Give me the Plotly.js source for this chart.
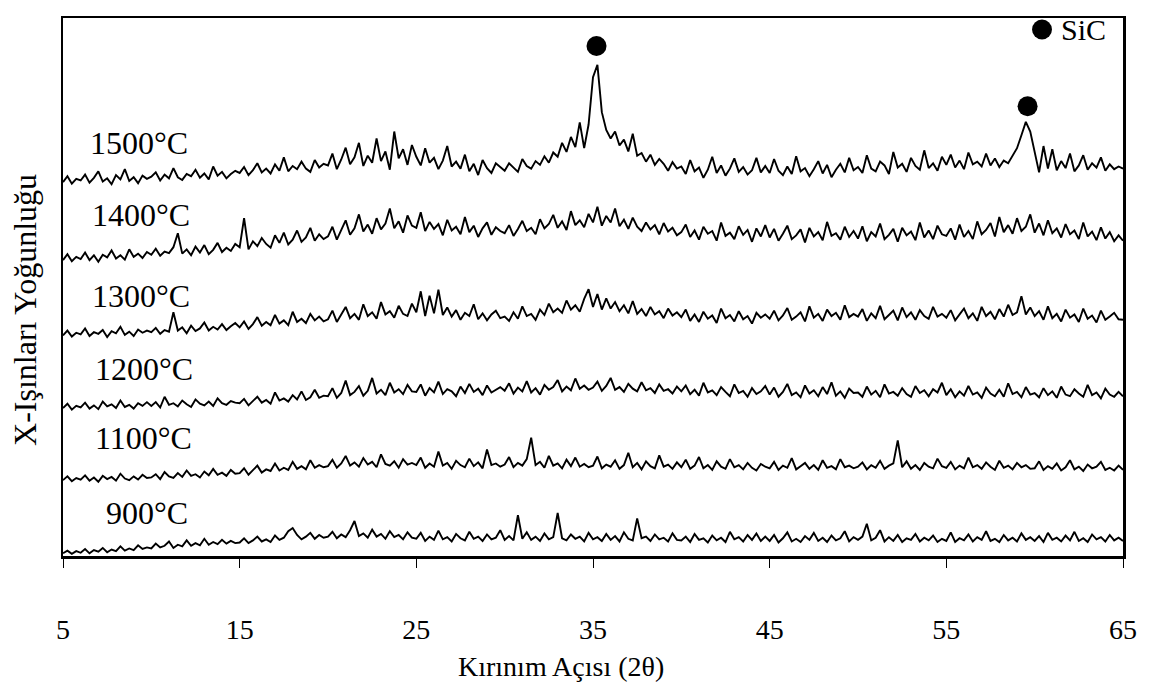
<!DOCTYPE html>
<html>
<head>
<meta charset="utf-8">
<script src="https://cdn.plot.ly/plotly-3.0.1.min.js"></script>
<style>
html,body{margin:0;padding:0;background:#fff;}
#chart{width:1159px;height:686px;}
</style>
</head>
<body>
<div id="chart"></div>
<script>
// Scan grid (2θ, degrees): 5 → 65 in steps of 0.25
const angleStart = 5, angleStep = 0.25, angleCount = 241;

// Intensities (arbitrary units, vertically offset as in the figure)
const i1500 = [
69.5,70.6,69.2,70.1,69.8,70.9,69.4,70.3,71.5,69.6,70.2,69.1,70.8,70.0,71.9,69.7,70.4,69.3,70.7,70.1,
70.5,71.3,69.8,70.9,70.2,72.1,70.4,69.9,71.0,70.6,71.8,70.3,71.1,70.0,72.4,70.7,71.4,70.2,71.0,71.6,
71.2,72.3,70.8,71.7,73.0,71.3,72.0,71.1,72.8,71.6,74.1,71.5,72.5,71.9,73.3,72.0,71.4,73.6,72.2,72.9,
72.6,74.8,71.9,73.7,75.9,72.8,74.1,76.8,72.5,74.4,73.1,77.6,73.4,75.2,71.8,78.9,73.9,75.6,72.7,76.4,
74.2,72.6,75.8,73.1,74.0,71.9,73.5,76.2,72.4,73.3,72.0,74.6,71.5,72.9,70.8,73.6,72.1,71.2,73.0,72.3,
71.6,73.0,72.2,71.4,73.8,72.5,72.0,73.4,72.7,74.3,73.1,75.0,74.2,76.8,75.1,77.9,76.0,80.6,75.8,80.2,
89.0,91.3,82.5,79.2,77.6,78.9,76.3,77.4,75.2,78.5,74.4,74.9,73.3,74.6,72.7,73.8,72.9,71.6,73.2,72.0,
72.4,71.0,73.6,71.5,72.2,70.3,71.8,74.2,71.2,72.6,70.7,72.0,73.9,71.4,72.3,70.9,71.7,74.0,71.3,72.5,
71.2,73.8,71.6,70.8,72.4,71.0,74.3,71.5,72.1,70.6,71.9,73.4,71.1,72.7,70.4,71.8,72.9,71.3,74.0,71.7,
72.3,71.2,74.5,72.0,71.5,73.3,72.6,71.0,75.1,72.2,72.9,71.4,74.0,72.5,71.8,75.4,72.1,73.0,71.6,74.2,
72.7,74.6,72.2,73.5,71.9,75.0,72.8,73.3,72.4,74.8,72.6,73.9,72.3,73.5,73.0,74.5,75.8,78.2,80.7,78.9,
75.0,71.3,76.2,72.0,75.6,71.7,73.4,72.1,74.8,71.5,72.6,74.5,71.8,73.0,72.2,74.1,71.6,72.8,71.9,72.4,
72.0];
const i1400 = [
55.0,56.1,54.8,55.6,55.2,56.4,55.0,55.9,54.7,56.0,55.5,56.8,55.3,55.9,55.1,57.0,55.6,56.2,55.4,56.5,
56.0,57.1,55.8,56.6,56.3,57.4,60.0,56.2,57.0,55.9,57.5,56.4,57.8,56.1,56.9,58.2,56.5,57.3,56.7,58.0,
57.4,62.8,57.0,58.5,57.6,59.1,58.0,57.3,59.6,58.2,60.1,57.9,58.8,60.5,58.4,59.2,61.0,58.6,59.8,58.9,
59.4,61.2,58.8,60.5,62.4,59.7,60.9,63.5,60.3,61.6,59.9,62.8,60.7,61.8,64.6,60.9,62.2,60.1,63.3,61.4,
61.0,63.9,60.4,62.1,60.8,61.7,59.6,62.5,60.5,61.2,59.8,63.0,60.2,61.4,59.3,60.9,62.0,59.7,61.1,60.4,
60.0,61.5,59.5,60.8,62.3,60.4,61.0,59.8,62.6,60.9,61.7,63.4,61.0,62.2,60.6,64.1,61.5,62.4,61.1,63.6,
62.0,64.9,61.4,63.2,62.0,64.6,61.3,62.5,60.8,62.9,61.2,60.4,62.0,60.7,61.5,59.8,61.9,60.3,61.0,59.6,
60.2,61.6,59.3,60.5,58.8,61.2,59.9,60.4,58.6,62.0,59.5,60.1,58.9,61.3,59.7,60.6,58.4,60.9,59.4,61.5,
59.2,60.8,58.6,59.9,61.4,58.9,59.6,60.7,58.3,61.0,59.4,60.2,58.7,62.1,59.5,60.0,58.8,61.2,59.3,60.4,
59.0,61.3,58.5,60.2,59.4,61.8,58.9,59.7,60.8,58.4,61.0,59.6,60.3,58.7,62.0,59.2,60.5,58.9,61.4,59.8,
59.5,60.9,58.8,61.6,59.3,60.4,58.9,62.2,59.8,60.6,61.9,59.4,63.0,60.2,61.5,59.9,62.8,60.4,61.2,63.5,
60.1,61.8,59.6,62.4,60.0,60.9,59.2,61.7,59.8,60.5,58.9,62.0,59.4,60.3,58.7,61.1,59.0,60.2,58.5,59.6,
58.6];
const i1300 = [
41.0,41.9,40.8,41.5,41.2,42.3,40.9,41.6,41.3,42.0,40.7,41.8,41.4,42.6,41.1,41.7,40.9,42.1,41.5,41.9,
41.6,42.4,41.3,42.0,41.7,45.3,41.9,42.5,41.4,42.8,41.8,42.3,43.4,41.9,42.6,42.1,43.1,42.0,42.7,43.3,
42.5,43.6,42.2,43.1,44.4,42.8,43.5,42.9,44.8,43.2,43.8,42.9,45.4,43.5,44.1,43.3,45.0,43.8,44.5,43.6,
44.0,45.6,43.5,44.8,46.3,44.2,45.0,43.9,46.8,44.6,45.3,44.1,47.2,44.9,45.5,44.3,46.5,45.0,44.6,46.9,
45.3,49.2,44.6,48.4,45.1,49.5,44.8,46.2,44.5,45.7,43.9,45.2,44.6,46.8,44.0,45.1,43.8,44.9,45.6,44.2,
44.5,43.7,45.3,44.1,46.4,44.6,45.0,43.9,45.8,44.8,46.9,45.3,46.0,45.2,47.5,45.8,46.6,45.4,47.8,49.6,
46.3,48.7,45.8,47.9,46.0,47.2,45.5,46.6,45.1,47.4,45.0,45.9,44.6,46.3,44.9,45.5,44.2,46.0,44.7,45.3,
44.4,45.8,43.7,44.9,43.5,45.4,44.1,44.7,43.3,46.0,44.2,44.8,43.6,45.5,44.0,44.6,43.2,45.2,44.3,44.9,
44.1,45.6,43.8,44.7,46.1,43.9,44.5,45.3,43.6,46.4,44.3,45.0,43.7,45.8,44.6,45.2,43.9,46.6,44.4,45.0,
44.5,45.9,43.7,45.1,44.2,46.5,44.0,44.8,45.6,43.8,46.2,44.4,45.3,43.9,45.7,44.6,44.1,46.3,44.5,45.0,
44.3,45.7,43.8,44.9,46.0,44.2,45.1,43.7,46.3,44.6,45.4,44.0,45.9,44.5,46.7,44.8,45.3,48.3,44.9,46.2,
44.6,45.5,43.9,46.4,44.2,45.0,43.6,45.8,44.3,44.9,43.5,46.0,44.1,44.7,43.4,45.6,43.9,44.5,45.2,44.0,
43.9];
const i1200 = [
27.5,28.3,27.2,27.9,27.6,28.5,27.4,28.0,27.3,28.7,27.8,28.2,27.5,28.9,27.7,28.1,27.4,28.4,27.9,28.6,
27.9,28.6,27.6,29.6,28.1,28.4,27.8,28.9,28.2,27.7,29.1,28.3,28.0,28.7,27.9,29.3,28.4,28.1,28.8,28.5,
28.4,29.2,28.0,28.9,29.6,28.5,29.0,28.3,30.4,28.9,29.3,28.7,29.9,29.1,30.6,29.0,29.5,30.9,29.4,29.8,
29.7,31.2,29.4,30.3,32.6,29.9,30.5,31.6,29.8,30.7,33.1,30.2,30.9,29.9,32.2,30.4,31.0,30.1,31.8,30.6,
30.5,31.9,29.8,31.2,30.4,32.4,30.1,31.0,30.6,29.7,31.5,30.3,32.0,30.5,31.1,29.9,31.7,30.4,30.9,31.4,
30.7,32.1,30.2,31.3,30.6,32.5,30.4,31.2,30.0,31.8,30.9,31.4,32.7,30.6,31.5,30.8,33.0,31.1,31.7,30.9,
31.3,32.4,30.7,31.6,33.1,30.9,31.4,30.5,32.0,31.1,30.6,32.3,30.8,31.2,30.3,31.9,30.7,31.0,30.2,31.5,
30.6,31.7,30.1,30.9,29.8,32.2,30.4,30.8,29.9,31.4,30.5,29.7,31.9,30.3,30.7,29.6,31.2,30.1,30.6,31.6,
30.0,31.3,29.6,30.5,32.0,29.9,30.4,29.5,31.7,30.2,30.8,29.7,31.4,30.1,32.3,29.8,30.6,29.4,31.1,30.3,
30.4,29.6,31.5,30.0,30.7,29.5,31.9,30.2,30.5,29.8,31.2,30.1,29.6,31.6,30.3,30.8,29.7,31.0,30.4,32.2,
29.9,31.0,29.5,30.6,29.8,31.6,30.0,30.4,29.4,31.3,30.2,29.7,30.9,29.6,32.1,30.1,30.5,29.5,31.4,30.0,
30.3,29.5,31.2,29.9,30.6,29.4,31.5,30.0,29.7,31.0,30.2,29.6,31.8,29.9,30.4,29.3,31.1,30.0,29.6,30.5,
29.7];
const i1100 = [
14.1,14.8,13.9,14.5,14.2,15.0,14.0,14.6,13.8,14.9,14.3,14.7,14.0,15.3,14.4,14.1,14.8,14.2,15.1,14.5,
14.6,15.2,14.3,15.6,14.8,14.5,15.4,14.7,15.9,14.9,15.2,14.6,15.7,15.0,16.2,15.1,15.5,14.9,16.0,15.3,
15.4,16.3,15.1,15.9,16.8,15.5,16.1,15.8,17.2,15.9,16.4,16.0,17.5,16.2,16.7,16.1,17.8,16.4,16.9,16.5,
16.7,17.9,16.4,17.2,18.6,16.8,17.4,16.6,18.2,17.0,17.5,16.5,18.9,17.1,16.8,17.6,16.4,18.0,17.0,17.3,
16.9,18.3,16.4,17.2,16.6,19.4,16.8,17.3,16.2,17.7,16.9,16.5,18.1,16.7,17.4,16.3,19.8,16.9,17.2,16.6,
17.0,18.4,16.5,17.3,16.8,18.0,22.0,16.9,17.5,16.4,18.6,16.8,17.2,16.3,17.9,16.7,18.3,16.6,17.1,16.5,
16.8,18.5,16.3,17.0,16.6,17.8,16.2,16.9,19.2,16.5,17.3,16.1,17.6,16.7,16.3,18.7,16.6,17.0,16.2,17.4,
16.5,17.9,16.2,16.8,18.4,16.3,16.9,16.0,17.6,16.6,16.2,18.0,16.5,16.9,16.1,17.3,16.4,15.9,17.1,16.6,
16.3,17.5,16.0,16.8,16.4,18.2,16.1,16.7,17.3,16.2,16.9,16.0,17.8,16.4,16.7,16.1,18.0,16.5,16.8,16.3,
16.6,17.4,16.1,16.9,16.4,17.7,16.2,16.8,17.2,21.5,16.5,17.6,16.2,16.9,16.0,17.3,16.6,16.3,18.1,16.7,
16.4,17.5,16.1,16.8,16.3,18.3,16.5,16.9,16.2,17.4,16.6,16.0,17.7,16.4,16.8,16.1,17.3,16.5,16.9,16.2,
16.3,17.6,16.0,16.7,16.2,17.2,15.9,16.5,17.8,16.1,16.6,15.8,17.0,16.3,16.6,17.5,16.0,16.4,15.9,16.8,
16.0];
const i900 = [
0.5,1.0,0.4,0.9,0.6,1.3,0.5,1.1,0.8,1.5,0.7,1.2,0.9,1.8,1.0,1.4,1.1,2.0,1.3,1.6,
1.4,2.3,1.6,1.9,2.7,1.5,2.1,1.8,2.9,1.9,2.4,2.0,3.2,2.1,2.6,2.2,3.0,2.3,2.8,2.4,
2.5,3.3,2.4,2.9,3.6,2.7,3.1,2.6,3.8,3.0,3.4,4.6,5.2,3.9,3.1,3.6,4.3,3.2,3.9,3.4,
3.6,4.5,3.3,4.0,3.5,4.8,6.5,3.7,4.2,3.4,4.9,3.6,4.1,3.2,4.6,3.5,3.9,3.1,4.4,3.4,
3.2,4.3,2.8,3.6,3.0,4.7,3.1,3.5,2.7,4.1,3.3,2.9,4.5,3.2,3.6,2.8,4.0,3.1,3.4,4.8,
3.0,3.7,2.9,7.6,3.2,4.4,3.0,3.6,2.8,4.2,3.1,3.5,8.0,3.3,2.9,4.0,3.2,3.6,2.7,4.3,
3.1,3.5,2.8,4.1,3.0,3.7,2.7,4.4,3.2,2.9,7.0,3.3,3.6,2.8,4.0,3.1,3.4,2.7,4.2,3.0,
2.9,3.6,2.6,4.1,3.0,3.3,2.5,3.8,2.9,3.4,2.6,4.5,3.1,3.5,2.7,3.9,3.0,4.2,2.8,3.6,
2.8,3.9,2.5,3.3,4.4,2.7,3.2,2.6,3.7,3.0,4.3,2.8,3.4,2.6,3.8,2.9,3.3,4.6,2.7,3.5,
3.0,3.6,6.0,2.9,3.4,4.8,2.7,3.5,2.8,3.9,2.6,3.3,3.0,4.1,2.7,3.4,2.9,3.8,2.6,3.2,
2.8,4.4,2.6,3.3,2.9,4.0,2.7,3.5,3.0,4.6,2.8,3.2,2.6,3.9,2.9,3.4,2.7,4.2,3.0,3.5,
2.8,3.7,2.6,4.3,3.0,3.4,2.7,3.8,2.9,4.5,2.8,3.3,2.6,4.0,3.1,3.5,2.7,3.9,2.9,3.4,
2.8];

const seriesNames = ["1500°C","1400°C","1300°C","1200°C","1100°C","900°C"];
const seriesData = [i1500, i1400, i1300, i1200, i1100, i900];

// SiC reflections marked with ●
const sicAngles = [35.2, 59.6];
const sicLevels = [94.8, 83.6];
const legendText = "SiC";

const xTickVals = [5, 15, 25, 35, 45, 55, 65];
const xTickText = ["5", "15", "25", "35", "45", "55", "65"];

const angles = [];
for (let i = 0; i < angleCount; i++) angles.push(angleStart + i * angleStep);

const FONT = "Liberation Serif, Times New Roman, serif";

const traces = seriesData.map((vals, k) => ({
  type: "scatter", mode: "lines", x: angles, y: vals,
  name: seriesNames[k], showlegend: false,
  line: {color: "#000", width: 1.9}, hoverinfo: "skip"
}));
traces.push({
  type: "scatter", mode: "markers", x: sicAngles, y: sicLevels,
  name: legendText, showlegend: false,
  marker: {color: "#000", size: 20, symbol: "circle"}
});

// label anchors (left edge) for each temperature
const labelX = [6.4, 6.5, 6.5, 6.7, 6.7, 7.3];
const labelY = [76.7, 63.4, 48.4, 34.7, 22.0, 8.0];
const annotations = seriesNames.map((t, k) => ({
  text: t, x: labelX[k], y: labelY[k], xref: "x", yref: "y",
  xanchor: "left", yanchor: "middle", showarrow: false,
  font: {family: FONT, size: 32, color: "#000"}
}));
annotations.push({
  text: "Kırınım Açısı (2θ)", xref: "paper", yref: "paper",
  x: 0.47, y: -0.205, xanchor: "center", yanchor: "middle", showarrow: false,
  font: {family: FONT, size: 28, color: "#000"}
});
annotations.push({
  text: "X-Işınları Yoğunluğu", xref: "paper", yref: "paper",
  x: -0.036, y: 0.457, xanchor: "center", yanchor: "middle", showarrow: false,
  textangle: -90, font: {family: FONT, size: 32, color: "#000"}
});
// legend text (SiC) next to its marker
annotations.push({
  text: legendText, xref: "paper", yref: "paper",
  x: 0.940, y: 0.978, xanchor: "left", yanchor: "middle", showarrow: false,
  font: {family: FONT, size: 30, color: "#000"}
});

const layout = {
  width: 1159, height: 686,
  margin: {l: 63, r: 36, t: 18, b: 130},
  paper_bgcolor: "#fff", plot_bgcolor: "#fff",
  font: {family: FONT, color: "#000"},
  xaxis: {
    range: [5, 65], tickmode: "array", tickvals: xTickVals, ticktext: xTickText,
    ticks: "outside", ticklen: 9, tickwidth: 1, tickcolor: "#000",
    ticklabelstandoff: 38,
    tickfont: {family: FONT, size: 28, color: "#000"},
    showgrid: false, zeroline: false,
    showline: true, linecolor: "#000", linewidth: 2.5, mirror: true
  },
  yaxis: {
    range: [0, 100], showticklabels: false, ticks: "",
    showgrid: false, zeroline: false,
    showline: true, linecolor: "#000", linewidth: 2.5, mirror: true
  },
  showlegend: false,
  shapes: [{
    type: "circle", xref: "paper", yref: "paper",
    x0: 0.9142, x1: 0.9330, y0: 0.960, y1: 0.997,
    fillcolor: "#000", line: {color: "#000", width: 0}
  }],
  annotations: annotations
};

Plotly.newPlot("chart", traces, layout, {displayModeBar: false, staticPlot: true});
</script>
</body>
</html>
